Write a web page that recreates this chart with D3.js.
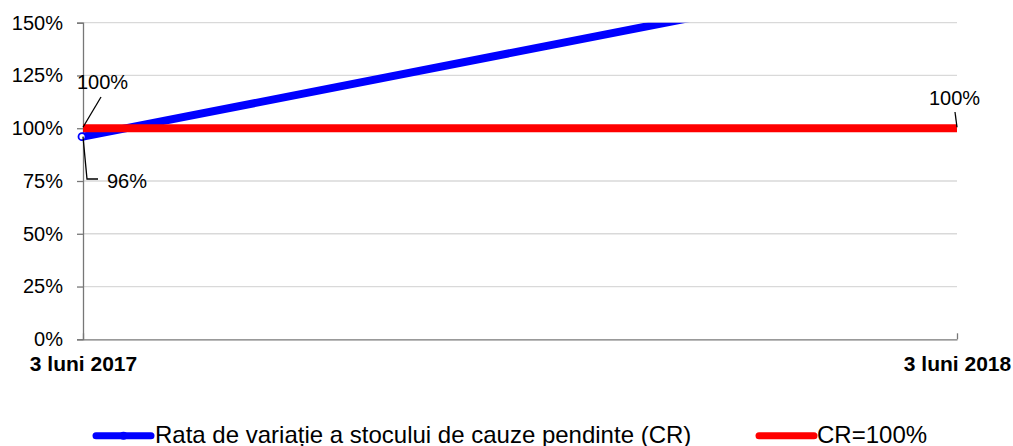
<!DOCTYPE html>
<html><head><meta charset="utf-8">
<script src="https://cdn.jsdelivr.net/npm/d3@7"></script>
<style>body{margin:0;background:#fff}svg{display:block;font-family:Arial,"Liberation Sans",sans-serif}</style>
</head><body><svg id="c" width="1013" height="446"></svg>
<script>
const categories = ["3 luni 2017", "3 luni 2018"];
const crValues = [96, 177];
const refValues = [100, 100];
const yTicks = [0, 25, 50, 75, 100, 125, 150];
const seriesNames = ["Rata de variație a stocului de cauze pendinte (CR)", "CR=100%"];

const svg = d3.select("#c");
const L = 83, R = 957, T = 22.7, B = 339.3;
const x = d3.scalePoint().domain(categories).range([L, R]);
const y = d3.scaleLinear().domain([0, 150]).range([B, T]);

// gridlines
svg.append("g").selectAll("line").data(yTicks.filter(d => d > 0)).join("line")
  .attr("x1", L).attr("x2", R).attr("y1", d => y(d)).attr("y2", d => y(d))
  .attr("stroke", "#d9d9d9").attr("stroke-width", 1.3);

// y axis
const yAxis = d3.axisLeft(y).tickValues(yTicks).tickFormat(d => d + "%").tickSizeOuter(0).tickSize(6).tickPadding(14);
const gy = svg.append("g").attr("transform", `translate(${L},0)`).call(yAxis);
gy.select(".domain").attr("stroke", "#777").attr("stroke-width", 1.3);
gy.selectAll(".tick line").attr("stroke", "#777").attr("stroke-width", 1.3);
gy.selectAll(".tick text").attr("font-size", 20).attr("fill", "#000").attr("font-family", "Arial, 'Liberation Sans', sans-serif");

// x axis
const xAxis = d3.axisBottom(x).tickSize(-6).tickSizeOuter(0).tickPadding(14);
const gx = svg.append("g").attr("transform", `translate(0,${B})`).call(xAxis);
gx.select(".domain").attr("stroke", "#777").attr("stroke-width", 1.3);
gx.selectAll(".tick line").attr("stroke", "#777").attr("stroke-width", 1.3);
gx.selectAll(".tick text").attr("font-size", 21).attr("font-weight", "bold").attr("fill", "#000")
  .attr("font-family", "Arial, 'Liberation Sans', sans-serif").attr("dy", 0).attr("y", 32);

// clip
svg.append("defs").append("clipPath").attr("id", "clip").append("rect")
  .attr("x", 0).attr("y", T).attr("width", 1013).attr("height", 446);

const line = d3.line().x((d, i) => x(categories[i])).y(d => y(d));
svg.append("path").datum(crValues).attr("clip-path", "url(#clip)")
  .attr("d", line).attr("fill", "none").attr("stroke", "#0000ff").attr("stroke-width", 8);
svg.append("path").datum(refValues)
  .attr("d", line).attr("fill", "none").attr("stroke", "#ff0000").attr("stroke-width", 8);
svg.append("circle").attr("cx", x(categories[0]) - 1).attr("cy", y(crValues[0]))
  .attr("r", 3.5).attr("fill", "#fff").attr("stroke", "#0000ff").attr("stroke-width", 1.8);

// data labels with leader lines
const lab = (tx, ty, text, pts) => {
  svg.append("polyline").attr("points", pts.map(p => p.join(",")).join(" "))
    .attr("fill", "none").attr("stroke", "#000").attr("stroke-width", 1.3);
  svg.append("text").attr("x", tx).attr("y", ty).attr("font-size", 20).attr("dominant-baseline", "central").text(text);
};
const x0 = x(categories[0]), x1 = x(categories[1]);
lab(77, 82, refValues[0] + "%", [[101, 97], [x0, y(refValues[0]) - 1]]);
lab(107, 181, crValues[0] + "%", [[x0, y(crValues[0])], [87, 179], [98, 179]]);
lab(929, 98, refValues[1] + "%", [[955, 112], [x1, y(refValues[1]) - 1]]);

// legend
const leg = [
  {x1: 96, x2: 151, color: "#0000ff", tx: 155, marker: true},
  {x1: 759, x2: 814, color: "#ff0000", tx: 817, marker: false}
];
leg.forEach((l, i) => {
  svg.append("line").attr("x1", l.x1).attr("x2", l.x2).attr("y1", 435.7).attr("y2", 435.7)
    .attr("stroke", l.color).attr("stroke-width", 7).attr("stroke-linecap", "round");
  if (l.marker) svg.append("circle").attr("cx", (l.x1 + l.x2) / 2).attr("cy", 435.7).attr("r", 4).attr("fill", l.color);
  svg.append("text").attr("x", l.tx).attr("y", 443).attr("font-size", 24).text(seriesNames[i]);
});
</script></body></html>
